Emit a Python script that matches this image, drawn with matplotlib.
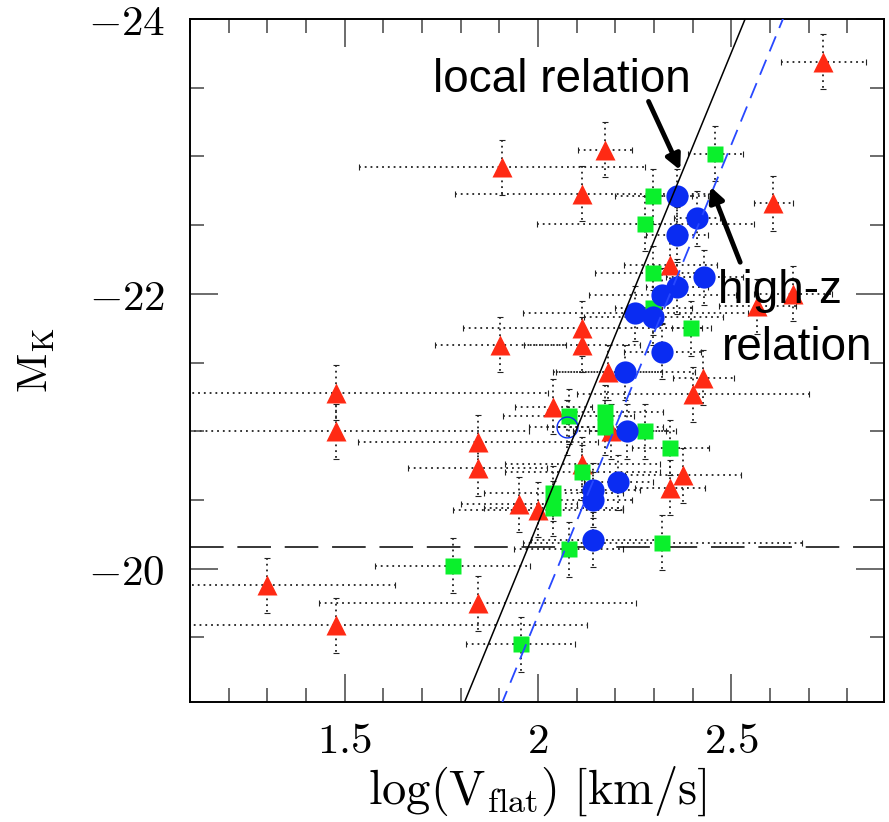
import numpy as np
import matplotlib.pyplot as plt
from matplotlib.ticker import MultipleLocator, FixedLocator, FixedFormatter

plt.rcParams['mathtext.fontset'] = 'cm'

# ---- data: log(Vflat), M_K and their errors ----
# red triangles
tri_logv = [2.738, 2.174, 1.906, 2.115, 2.342, 2.609, 2.660, 2.567,
            1.477, 1.477, 1.844, 1.844, 1.300, 1.477, 1.844,
            2.115, 2.115, 1.903, 2.180, 2.040, 2.400, 2.428, 2.190,
            2.115, 2.376, 2.342, 1.952, 1.999]
tri_mk = [-23.69, -23.05, -22.92, -22.73, -22.21, -22.66, -22.00, -21.91,
          -21.28, -21.00, -20.92, -20.73, -19.88, -19.59, -19.75,
          -21.75, -21.63, -21.63, -21.43, -21.18, -21.27, -21.39, -21.00,
          -20.76, -20.68, -20.59, -20.47, -20.43]
tri_xerr = [0.11, 0.07, 0.37, 0.33, 0.12, 0.05, 0.10, 0.10,
            0.55, 0.50, 0.31, 0.18, 0.33, 0.65, 0.41,
            0.31, 0.15, 0.17, 0.14, 0.10, 0.30, 0.08, 0.10,
            0.20, 0.15, 0.09, 0.15, 0.22]

# green squares
sq_logv = [2.459, 2.298, 2.278, 2.298, 2.298, 2.397, 2.079, 2.174, 2.174,
           2.278, 2.342, 2.115, 2.040, 2.040, 2.079, 2.322, 1.779, 1.955]
sq_mk = [-23.02, -22.71, -22.51, -22.15, -21.90, -21.75, -21.11, -21.14, -21.03,
         -21.00, -20.88, -20.70, -20.55, -20.44, -20.14, -20.19, -20.02, -19.45]
sq_xerr = [0.07, 0.10, 0.28, 0.15, 0.10, 0.05, 0.17, 0.15, 0.15,
           0.08, 0.10, 0.20, 0.18, 0.18, 0.14, 0.36, 0.20, 0.14]

# blue circles
circ_logv = [2.360, 2.412, 2.360, 2.430, 2.360, 2.322, 2.252, 2.298,
             2.322, 2.226, 2.231, 2.143, 2.143, 2.208, 2.143]
circ_mk = [-22.71, -22.55, -22.43, -22.12, -22.05, -21.99, -21.86, -21.83,
           -21.58, -21.43, -21.00, -20.57, -20.50, -20.63, -20.21]
circ_xerr = [0.08, 0.06, 0.08, 0.10, 0.08, 0.19, 0.29, 0.18,
             0.10, 0.18, 0.10, 0.12, 0.10, 0.09, 0.16]

# open circle
open_logv = [2.076]
open_mk = [-21.03]
open_xerr = [0.10]

mk_err = 0.2

# Tully-Fisher relations: M_K = zp + slope * log(Vflat)
slope = -6.85
zp_local = -6.63
zp_highz = -5.96
mk_limit = -20.16

RED = '#ff2a14'
GREEN = '#0af02c'
BLUE = '#0a2cf2'

fig = plt.figure(figsize=(8.89, 8.22), dpi=100)
ax = fig.add_axes([0.2137, 0.146, 0.7807, 0.8309])


def errs(x, y, xe):
    eb = ax.errorbar(x, y, xerr=xe, yerr=mk_err, fmt='none', ecolor='#222222',
                     elinewidth=1.3, capsize=2, capthick=0.8, zorder=1)
    for lc in eb[2]:
        lc.set_linestyle((0, (1.0, 2.2)))


errs(tri_logv, tri_mk, tri_xerr)
errs(sq_logv, sq_mk, sq_xerr)
errs(circ_logv, circ_mk, circ_xerr)
errs(open_logv, open_mk, open_xerr)

ax.plot(tri_logv, tri_mk, '^', color=RED, ms=14, mec='none', zorder=3)
ax.plot(sq_logv, sq_mk, 's', color=GREEN, ms=12, mec='none', zorder=3)
ax.plot(circ_logv, circ_mk, 'o', color=BLUE, ms=16, mec='none', zorder=4)
ax.plot(open_logv, open_mk, 'o', mfc='none', mec=BLUE, mew=1.0, ms=15, zorder=4)

xx = np.linspace(1.0, 3.0, 50)
ax.plot(xx, zp_local + slope * xx, color='black', lw=1.1, zorder=5)
ax.plot(xx, zp_highz + slope * xx, color='#2848ff', lw=1.3,
        dashes=(9, 5), zorder=5)
ax.axhline(mk_limit, color='black', lw=1.1, dashes=(22, 9), zorder=2)

ax.set_xlim(1.10, 2.895)
ax.set_ylim(-19.03, -24.0)

ax.xaxis.set_major_locator(FixedLocator([1.5, 2.0, 2.5]))
ax.xaxis.set_major_formatter(FixedFormatter(['$1.5$', '$2$', '$2.5$']))
ax.xaxis.set_minor_locator(MultipleLocator(0.1))
ax.yaxis.set_major_locator(FixedLocator([-24, -22, -20]))
ax.yaxis.set_major_formatter(FixedFormatter(['$-24$', '$-22$', '$-20$']))
ax.yaxis.set_minor_locator(MultipleLocator(0.5))

ax.tick_params(which='both', direction='in', top=True, right=True,
               color='#444444')
ax.tick_params(which='major', length=20, width=1.1, labelsize=31)
ax.tick_params(axis='x', which='major', pad=13)
ax.tick_params(axis='y', which='major', pad=18)
ax.tick_params(which='minor', length=10, width=1.1)
for sp in ax.spines.values():
    sp.set_linewidth(1.4)

ax.set_xlabel(r'$\mathrm{log(V_{flat})\ [km/s]}$', fontsize=35, labelpad=2)
ax.set_ylabel(r'$\mathrm{M_K}$', fontsize=31, labelpad=22)

txt = dict(fontsize=33, family='Liberation Sans', color='black', zorder=6)
ax.text(2.061, -23.47, 'local relation', ha='center', va='baseline', **txt)
ax.text(2.466, -21.93, 'high-z', ha='left', va='baseline', **txt)
ax.text(2.476, -21.52, 'relation', ha='left', va='baseline', **txt)

arrow = dict(arrowstyle='-|>', color='black', lw=3.5, mutation_scale=22,
             shrinkA=0, shrinkB=0)
ax.annotate('', xy=(2.368, -22.90), xytext=(2.286, -23.40),
            arrowprops=arrow, zorder=6)
ax.annotate('', xy=(2.446, -22.78), xytext=(2.523, -22.23),
            arrowprops=arrow, zorder=6)

fig.savefig('out.png', dpi=100)
